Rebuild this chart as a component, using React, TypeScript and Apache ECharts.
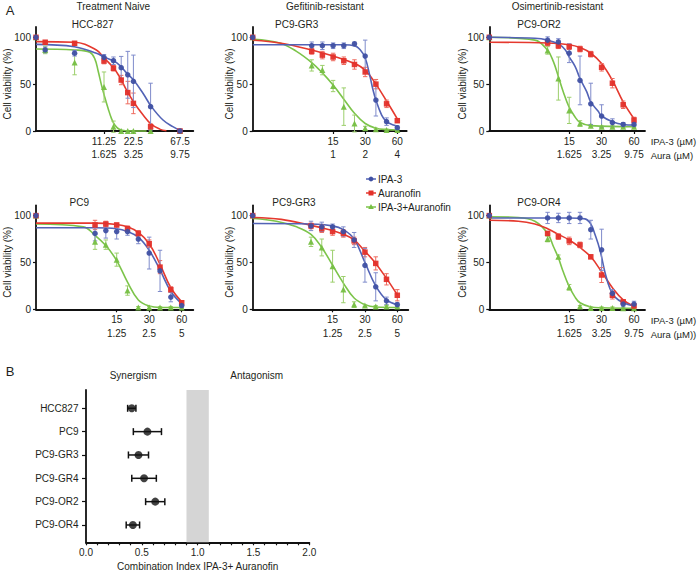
import React, { useEffect, useRef } from 'react';
import * as echarts from 'echarts';

const FONT = '"Liberation Sans", Arial, Helvetica, sans-serif';
const TEXT = '#231f20';
const AXIS = '#111111';

// ---------------- DATA (section A) ----------------
// IPA-3 doses (µM); the untreated control sits at the left end of each axis
const hccDoses = [2.8125, 5.625, 11.25, 14.0625, 16.875, 19.6875, 22.5, 33.75, 67.5];
const pc9Doses = [9.45, 11.9, 15, 18.9, 23.8, 30, 37.8, 47.6, 60];

const hccTicks = [11.25, 22.5, 67.5];
const hccTickLabels = ['11.25', '22.5', '67.5'];
const hccAuraLabels = ['1.625', '3.25', '9.75'];
const pc9Ticks = [15, 30, 60];
const pc9TickLabels = ['15', '30', '60'];
const gr3AuraLabels = ['1', '2', '4'];
const orAuraLabels = ['1.625', '3.25', '9.75'];
const pc9AuraLabels = ['1.25', '2.5', '5'];
const yTicks = [0, 50, 100];

const seriesNames = ['IPA-3', 'Auranofin', 'IPA-3+Auranofin'];

// HCC-827 (control first)
const p1Blue = [100, 86.5, 83, 78.6, 75, 67.6, 60, 53, 26, 0];
const p1BlueErr = [0, 3, 3, 3, 4, 12, 25, 28, 25, 1];
const p1Red = [100, 94.7, 93.6, 74.7, 67, 54.4, 41, 29.5, 4.6, 0];
const p1RedErr = [0, 2, 2, 3, 3, 5, 12, 11, 3, 0];
const p1Green = [100, 86.5, 73, 47, 4.6, 0, 0, 0, 0, 0];
const p1GreenErr = [0, 4, 13, 16, 6, 0, 0, 0, 0, 0];
const p1BlueCurve = [[2.26, 92.5], [5.6, 90], [9.4, 83], [11.25, 79], [14.2, 74.7], [16.4, 69.8], [19.3, 61.6], [22.6, 54.4], [28.3, 40], [34.4, 26], [45.2, 11.7], [57, 4.6], [67.5, 0.5]];
const p1RedCurve = [[2.26, 95.4], [5.6, 94.7], [9.4, 86.5], [11.25, 78], [14.2, 67], [16.4, 57], [19.3, 43], [22.6, 31], [28.3, 17], [34.4, 7], [41.8, 2], [49, 0.3]];
const p1GreenCurve = [[2.26, 87.5], [5.6, 86.5], [8.05, 84], [9.06, 77], [9.8, 64], [10.6, 49], [11.46, 36], [12.4, 24], [13.4, 13.5], [14.5, 6.4], [16.3, 1.5], [19.1, 0.3], [30.7, 0]];

// PC9-GR3 (top row)
const p2Blue = [100, 91, 91, 91, 91, 93, 80, 33, 10, 3.5];
const p2BlueErr = [0, 4, 4, 3, 3, 2, 17, 17, 4, 2];
const p2Red = [100, 85, 81, 79, 75, 71, 63, 50, 29, 11];
const p2RedErr = [0, 3, 4, 4, 4, 5, 5, 5, 4, 2];
const p2Green = [100, 70, 65, 48, 26, 8, 3, 2, 1, 1];
const p2GreenErr = [0, 6, 5, 6, 20, 9, 2, 1, 1, 1];
const p2BlueCurve = [[2.64, 92], [9.45, 92], [18.9, 92], [23.8, 91], [26.8, 87], [30, 78], [33.3, 58], [35.5, 44], [37.8, 33], [42.8, 17], [47.6, 10], [55.2, 6.4], [60, 5.3]];
const p2RedCurve = [[2.64, 97], [4.74, 94], [9.45, 86.5], [15, 80], [23.8, 72], [30, 65], [37.8, 50], [47.6, 32], [60, 13]];
const p2GreenCurve = [[2.64, 98], [4.74, 94], [6.8, 85], [9.45, 73], [11.9, 62], [15, 49], [18.9, 34], [23.8, 19], [30, 8], [37.8, 3], [47.6, 1.5], [60, 1]];

// PC9-OR2
const p3Blue = [100, 97, 95, 83, 54, 29, 16, 9, 7, 7];
const p3BlueErr = [0, 3.5, 3.5, 10, 26, 22, 12, 4, 2, 2];
const p3Red = [100, 94, 91, 90, 87.5, 82, 68, 51, 28, 11.7];
const p3RedErr = [0, 3, 3, 3, 3, 3, 4, 5, 4, 3];
const p3Green = [100, 86, 56, 22, 8, 5.7, 4.6, 4.6, 4.6, 4.6];
const p3GreenErr = [0, 4, 23, 14, 3, 1, 1, 1, 1, 1];
const p3BlueCurve = [[2.72, 100], [7.2, 99], [9.45, 97], [11.9, 93], [13.7, 87], [15, 79], [17, 69], [18.9, 56], [21.8, 42], [23.8, 31], [27.9, 21], [30, 16], [37.8, 10], [47.6, 7], [60, 6.4]];
const p3RedCurve = [[2.72, 94.7], [9.45, 94], [15, 92], [18.9, 89], [23.8, 83], [30, 72], [37.8, 54], [47.6, 31], [60, 13]];
const p3GreenCurve = [[2.72, 100], [7.2, 97], [9.45, 86], [10.7, 74], [11.9, 58], [13.2, 42], [14.9, 26], [17, 15], [18.9, 9], [23.8, 5.7], [60, 4.6]];

// PC9
const p4Blue = [100, 81, 84, 83, 83, 75, 60, 41, 13, 4];
const p4BlueErr = [0, 8, 8, 8, 4, 5, 17, 22, 5, 2];
const p4Red = [100, 90, 91, 90, 86, 81, 70, 45, 21, 7];
const p4RedErr = [0, 5, 3, 2, 3, 3, 4, 7, 3, 2];
const p4Green = [100, 72, 69, 53, 20, 2, 2, 2, 2, 2];
const p4GreenErr = [0, 8, 5, 7, 5, 1, 1, 1, 1, 1];
const p4BlueCurve = [[2.68, 87], [9.45, 87], [15, 86], [18.9, 83], [23.8, 77], [30, 63], [37.8, 42], [47.6, 19], [60, 6]];
const p4RedCurve = [[2.68, 92], [9.45, 92], [15, 90.5], [18.9, 88], [23.8, 82], [30, 70], [37.8, 48], [47.6, 23], [60, 8]];
const p4GreenCurve = [[2.68, 91], [7.35, 88], [9.45, 79], [11.9, 68], [15, 52], [18.9, 29], [23.8, 10], [30, 3.5], [37.8, 2], [60, 2]];

// PC9-GR3 (bottom row)
const p5Blue = [100, 89, 88, 88, 83, 74, 47, 24, 9, 5];
const p5BlueErr = [0, 5, 5, 3, 5, 8, 18, 15, 4, 2];
const p5Red = [100, 89, 86, 83, 81, 73, 61, 49, 32, 15];
const p5RedErr = [0, 3, 4, 4, 4, 4, 5, 7, 6, 6];
const p5Green = [100, 72, 66, 46, 21, 5, 4, 3, 3, 3];
const p5GreenErr = [0, 5, 9, 17, 14, 3, 1, 1, 1, 1];
const p5BlueCurve = [[2.71, 91.5], [9.45, 91], [15, 89], [18.9, 85], [23.8, 75], [30, 50], [37.8, 25], [47.6, 10], [60, 5]];
const p5RedCurve = [[2.71, 98], [5, 96], [9.45, 89.5], [11.9, 87], [15, 84], [18.9, 80], [23.8, 74], [30, 62], [37.8, 49], [47.6, 33], [60, 15.5]];
const p5GreenCurve = [[2.71, 97], [4.5, 94], [6.95, 88], [9.45, 80], [11.9, 66], [15, 47], [18.9, 28], [23.8, 12], [30, 5], [37.8, 2.5], [60, 2]];

// PC9-OR4
const p6Blue = [100, 97.5, 97.5, 97.5, 97.5, 85, 63.5, 17, 5.6, 5.6];
const p6BlueErr = [0, 6, 5, 6, 6, 10, 22, 4, 3, 3];
const p6Red = [100, 81, 77.6, 73, 68.7, 56, 36.6, 15, 8, 3.5];
const p6RedErr = [0, 2, 3, 4, 3, 2, 8, 4, 2, 1];
const p6Green = [100, 75, 56, 23.5, 3, 1.5, 1.5, 1.5, 1, 1];
const p6GreenErr = [0, 3, 2, 3, 1, 1, 1, 1, 1, 1];
const p6BlueCurve = [[2.72, 97.5], [15, 97.5], [21, 96.5], [23.8, 91], [26, 80], [29, 63], [32.3, 39], [35.9, 22], [40, 13], [47.6, 7], [60, 3.5]];
const p6RedCurve = [[2.72, 95], [5.05, 94], [7.2, 91], [9.45, 86], [11.9, 80], [15, 74], [18.9, 66], [23.8, 56], [30, 40], [37.8, 23], [47.6, 10], [60, 3]];
const p6GreenCurve = [[2.72, 98.7], [5.05, 98], [7.2, 94], [9.45, 81], [10.7, 67], [11.9, 55], [13.2, 40], [14.9, 25], [17, 13], [18.9, 7], [23.8, 2.5], [30, 1.6], [60, 1]];

// ---------------- DATA (section B) ----------------
const ciLabels = ['HCC827', 'PC9', 'PC9-GR3', 'PC9-GR4', 'PC9-OR2', 'PC9-OR4'];
const ciValues = [0.41, 0.55, 0.47, 0.52, 0.62, 0.42];
const ciErr = [0.037, 0.126, 0.09, 0.11, 0.086, 0.06];
const ciTicks = [0, 0.5, 1, 1.5, 2];
const additivityBand = [0.9, 1.1];

// ---------------- PANELS ----------------
const panels = [
  { title: 'HCC-827', doses: hccDoses, ticks: hccTicks, tickLabels: hccTickLabels, auraLabels: hccAuraLabels,
    vals: [p1Blue, p1Red, p1Green], errs: [p1BlueErr, p1RedErr, p1GreenErr], curves: [p1BlueCurve, p1RedCurve, p1GreenCurve] },
  { title: 'PC9-GR3', doses: pc9Doses, ticks: pc9Ticks, tickLabels: pc9TickLabels, auraLabels: gr3AuraLabels,
    vals: [p2Blue, p2Red, p2Green], errs: [p2BlueErr, p2RedErr, p2GreenErr], curves: [p2BlueCurve, p2RedCurve, p2GreenCurve] },
  { title: 'PC9-OR2', doses: pc9Doses, ticks: pc9Ticks, tickLabels: pc9TickLabels, auraLabels: orAuraLabels,
    vals: [p3Blue, p3Red, p3Green], errs: [p3BlueErr, p3RedErr, p3GreenErr], curves: [p3BlueCurve, p3RedCurve, p3GreenCurve] },
  { title: 'PC9', doses: pc9Doses, ticks: pc9Ticks, tickLabels: pc9TickLabels, auraLabels: pc9AuraLabels,
    vals: [p4Blue, p4Red, p4Green], errs: [p4BlueErr, p4RedErr, p4GreenErr], curves: [p4BlueCurve, p4RedCurve, p4GreenCurve] },
  { title: 'PC9-GR3', doses: pc9Doses, ticks: pc9Ticks, tickLabels: pc9TickLabels, auraLabels: pc9AuraLabels,
    vals: [p5Blue, p5Red, p5Green], errs: [p5BlueErr, p5RedErr, p5GreenErr], curves: [p5BlueCurve, p5RedCurve, p5GreenCurve] },
  { title: 'PC9-OR4', doses: pc9Doses, ticks: pc9Ticks, tickLabels: pc9TickLabels, auraLabels: orAuraLabels,
    vals: [p6Blue, p6Red, p6Green], errs: [p6BlueErr, p6RedErr, p6GreenErr], curves: [p6BlueCurve, p6RedCurve, p6GreenCurve] },
];

// layout (pixels / log2-dose axis extents)
const PANEL_H = 104;
const layouts = [
  { left: 36, top: 27, width: 157.3, xMin: 1.179, xMax: 6.529, titleX: 92.7, yTitleX: 7 },
  { left: 252.7, top: 27, width: 154, xMin: 1.402, xMax: 6.2, titleX: 296.7, yTitleX: 229 },
  { left: 489.3, top: 27, width: 155.7, xMin: 1.441, xMax: 6.246, titleX: 539, yTitleX: 462 },
  { left: 36, top: 205.3, width: 157.3, xMin: 1.424, xMax: 6.264, titleX: 79.3, yTitleX: 7 },
  { left: 252.7, top: 205.3, width: 155.6, xMin: 1.438, xMax: 6.247, titleX: 294, yTitleX: 229 },
  { left: 489.3, top: 205.3, width: 155.7, xMin: 1.441, xMax: 6.246, titleX: 539, yTitleX: 462 },
];

const markerColors = ['#3f50a3', '#e3302a', '#76bf43'];
const lineColors = ['#5263b6', '#e5392e', '#7cc44a'];
const errColors = ['#7f8bcb', '#ee6a5e', '#9ccf6c'];
const symbols = ['circle', 'rect', 'triangle'];
const symbolSizes = [5.5, 5.5, 6];

const errV = (color: string) => (params: any, api: any) => {
  const x = api.value(0);
  const y = api.value(1);
  const e = api.value(2);
  if (!e) return null;
  const a = api.coord([x, y + e]);
  const b = api.coord([x, y - e]);
  const c = 2.2;
  const st = { stroke: color, lineWidth: 1 };
  return {
    type: 'group',
    children: [
      { type: 'line', shape: { x1: a[0], y1: a[1], x2: b[0], y2: b[1] }, style: st },
      { type: 'line', shape: { x1: a[0] - c, y1: a[1], x2: a[0] + c, y2: a[1] }, style: st },
      { type: 'line', shape: { x1: b[0] - c, y1: b[1], x2: b[0] + c, y2: b[1] }, style: st },
    ],
  };
};

const errH = (params: any, api: any) => {
  const v = api.value(0);
  const i = api.value(1);
  const e = api.value(2);
  const a = api.coord([v - e, i]);
  const b = api.coord([v + e, i]);
  const c = 3.5;
  const st = { stroke: '#111', lineWidth: 1.5 };
  return {
    type: 'group',
    children: [
      { type: 'line', shape: { x1: a[0], y1: a[1], x2: b[0], y2: b[1] }, style: st },
      { type: 'line', shape: { x1: a[0], y1: a[1] - c, x2: a[0], y2: a[1] + c }, style: st },
      { type: 'line', shape: { x1: b[0], y1: b[1] - c, x2: b[0], y2: b[1] + c }, style: st },
    ],
  };
};

function txt(text: string, x: number, y: number, size = 10, align = 'center', rotation = 0) {
  return {
    type: 'text', x, y, rotation, silent: true,
    style: { text, fill: TEXT, font: `${size}px ${FONT}`, align, verticalAlign: 'middle' },
  };
}

function buildOption() {
  const grids: any[] = [];
  const xAxes: any[] = [];
  const yAxes: any[] = [];
  const series: any[] = [];
  const graphics: any[] = [];

  panels.forEach((p, i) => {
    const L = layouts[i];
    grids.push({ left: L.left, top: L.top, width: L.width, height: PANEL_H, containLabel: false, outerBoundsMode: 'none' });
    const tickPos = p.ticks.map((t) => Math.log2(t));
    xAxes.push({
      gridIndex: i, type: 'value', min: L.xMin, max: L.xMax,
      axisLine: { show: true, onZero: false, lineStyle: { color: AXIS, width: 1.8 } },
      axisTick: { show: true, customValues: tickPos, length: 3, lineStyle: { color: AXIS, width: 1.2 } },
      axisLabel: {
        show: true, customValues: tickPos, fontSize: 10, lineHeight: 13.3, margin: 4, color: TEXT, fontFamily: FONT,
        formatter: (v: number) => {
          const k = tickPos.findIndex((t) => Math.abs(t - v) < 1e-3);
          return k < 0 ? '' : `${p.tickLabels[k]}\n${p.auraLabels[k]}`;
        },
      },
      splitLine: { show: false },
    });
    yAxes.push({
      gridIndex: i, type: 'value', min: 0, max: 111,
      axisLine: { show: true, onZero: false, lineStyle: { color: AXIS, width: 1.8 } },
      axisTick: { show: true, customValues: yTicks, length: 3, lineStyle: { color: AXIS, width: 1.2 } },
      axisLabel: { show: true, customValues: yTicks, fontSize: 10, margin: 5, color: TEXT, fontFamily: FONT },
      splitLine: { show: false },
    });

    const xs = [L.xMin, ...p.doses.map((d) => Math.log2(d))];
    [2, 1, 0].forEach((k) => {
      series.push({
        type: 'line', name: seriesNames[k], xAxisIndex: i, yAxisIndex: i,
        data: p.curves[k].map(([c, v]) => [Math.max(L.xMin, Math.log2(c)), v]),
        smooth: 0.4, showSymbol: false, symbol: 'none', silent: true, clip: false, z: 2,
        lineStyle: { color: lineColors[k], width: 1.6 },
      });
      const pts = p.vals[k].map((v, j) => [xs[j], v, p.errs[k][j]]);
      series.push({
        type: 'custom', xAxisIndex: i, yAxisIndex: i, data: pts, encode: { x: 0, y: 1 },
        renderItem: errV(errColors[k]), silent: true, clip: false, z: 3,
      });
      series.push({
        type: 'scatter', name: seriesNames[k], xAxisIndex: i, yAxisIndex: i,
        data: pts.map((q) => [q[0], q[1]]), symbol: symbols[k], symbolSize: symbolSizes[k],
        itemStyle: { color: markerColors[k], opacity: 0.95 }, silent: true, clip: false, z: 4,
      });
    });

    const rowY = L.top;
    graphics.push(txt(p.title, L.titleX, rowY - 2.7));
    graphics.push(txt('Cell viability (%)', L.yTitleX, rowY + PANEL_H - 47, 10, 'center', Math.PI / 2));
  });

  // Section B
  const bi = panels.length;
  grids.push({ left: 86, top: 390, width: 223.3, height: 152.3, containLabel: false, outerBoundsMode: 'none' });
  xAxes.push({
    gridIndex: bi, type: 'value', min: 0, max: 2, interval: 0.5,
    axisLine: { show: true, onZero: false, lineStyle: { color: AXIS, width: 1.8 } },
    axisTick: { show: true, length: 3, lineStyle: { color: AXIS, width: 1.2 } },
    minorTick: { show: true, splitNumber: 5, length: 3, lineStyle: { color: AXIS, width: 1.2 } },
    axisLabel: { show: true, customValues: ciTicks, fontSize: 10, margin: 5, color: TEXT, fontFamily: FONT, formatter: (v: number) => v.toFixed(1) },
    splitLine: { show: false },
  });
  const catPos = ciLabels.map((_, k) => k);
  yAxes.push({
    gridIndex: bi, type: 'value', min: -0.784, max: 5.742, inverse: true,
    axisLine: { show: true, onZero: false, lineStyle: { color: AXIS, width: 1.8 } },
    axisTick: { show: true, customValues: catPos, length: 4, lineStyle: { color: AXIS, width: 1.2 } },
    axisLabel: {
      show: true, customValues: catPos, fontSize: 10, margin: 7.5, color: TEXT, fontFamily: FONT,
      formatter: (v: number) => ciLabels[Math.round(v)] ?? '',
    },
    splitLine: { show: false },
  });
  const ciPts = ciValues.map((v, k) => [v, k, ciErr[k]]);
  series.push({
    type: 'custom', xAxisIndex: bi, yAxisIndex: bi, data: ciPts, encode: { x: 0, y: 1 },
    renderItem: errH, silent: true, clip: false, z: 3,
  });
  series.push({
    type: 'scatter', name: 'Combination Index', xAxisIndex: bi, yAxisIndex: bi,
    data: ciPts.map((q) => [q[0], q[1]]), symbol: 'circle', symbolSize: 8,
    itemStyle: { color: '#111' }, silent: true, clip: false, z: 4,
    markArea: {
      silent: true, itemStyle: { color: '#d5d5d5' },
      data: [[{ xAxis: additivityBand[0] }, { xAxis: additivityBand[1] }]],
    },
  });

  // texts
  graphics.push(txt('A', 10, 10.5, 13));
  graphics.push(txt('B', 10, 371.5, 13));
  graphics.push(txt('Treatment Naive', 113.3, 6));
  graphics.push(txt('Gefitinib-resistant', 325, 6));
  graphics.push(txt('Osimertinib-resistant', 557.5, 6));
  graphics.push(txt('IPA-3 (µM)', 650.7, 141.7, 9.5, 'left'));
  graphics.push(txt('Aura (µM)', 650.7, 155, 9.5, 'left'));
  graphics.push(txt('IPA-3 (µM)', 650.7, 320.7, 9.5, 'left'));
  graphics.push(txt('Aura (µM))', 650.7, 334, 9.5, 'left'));
  graphics.push(txt('Synergism', 133.3, 375));
  graphics.push(txt('Antagonism', 256.7, 375));
  graphics.push(txt('Combination Index IPA-3+ Auranofin', 197.7, 566));

  // legend
  const legY = [179, 193, 207];
  seriesNames.forEach((name, k) => {
    const y = legY[k];
    graphics.push({ type: 'line', silent: true, shape: { x1: 366, y1: y, x2: 376, y2: y }, style: { stroke: lineColors[k], lineWidth: 1.5 } });
    if (k === 0) graphics.push({ type: 'circle', silent: true, shape: { cx: 371, cy: y, r: 2.4 }, style: { fill: markerColors[k] } });
    if (k === 1) graphics.push({ type: 'rect', silent: true, shape: { x: 368.5, y: y - 2.5, width: 5, height: 5 }, style: { fill: markerColors[k] } });
    if (k === 2) graphics.push({ type: 'polygon', silent: true, shape: { points: [[371, y - 3], [368.2, y + 2], [373.8, y + 2]] }, style: { fill: markerColors[k] } });
    graphics.push(txt(name, 378, y, 10, 'left'));
  });

  return {
    animation: false,
    backgroundColor: '#ffffff',
    textStyle: { fontFamily: FONT },
    grid: grids,
    xAxis: xAxes,
    yAxis: yAxes,
    series,
    graphic: { elements: graphics },
  };
}

export default function App() {
  const ref = useRef<HTMLDivElement>(null);
  useEffect(() => {
    if (!ref.current) return;
    const chart = echarts.init(ref.current, null, { renderer: 'svg' });
    chart.setOption(buildOption() as any);
    return () => chart.dispose();
  }, []);
  return (
    <div
      ref={ref}
      style={{ position: 'absolute', left: 0, top: 0, width: 698, height: 570, background: '#fff' }}
    />
  );
}
